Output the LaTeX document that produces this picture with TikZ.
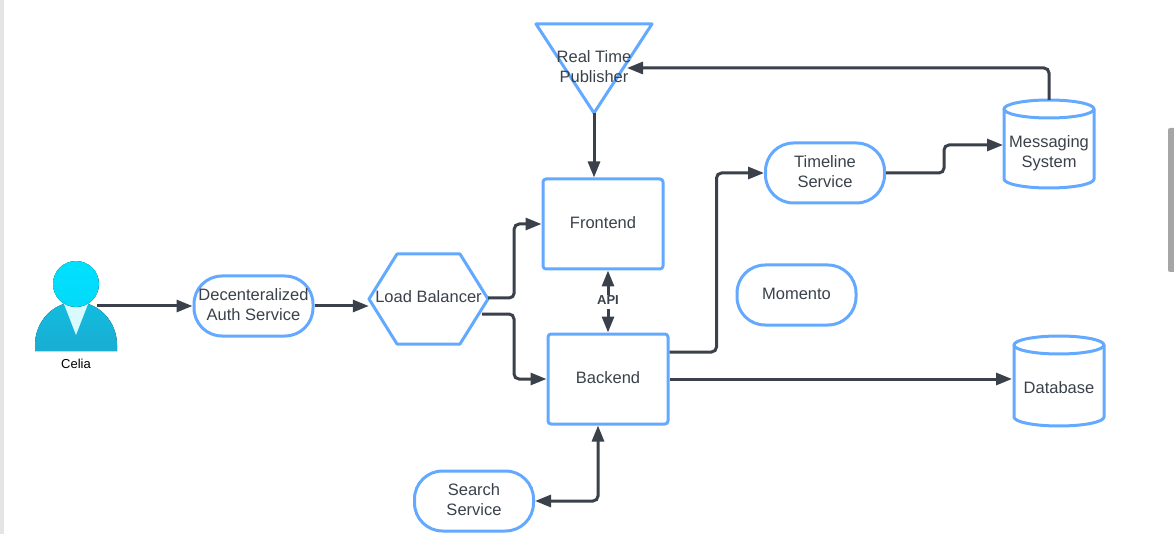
\documentclass[tikz,border=0pt]{standalone}
\usepackage{fontspec}
\setmainfont{Liberation Sans}
\usetikzlibrary{arrows.meta}
\definecolor{edgeblue}{HTML}{63A9FF}
\definecolor{inkgray}{HTML}{3A414A}
\definecolor{topcyan}{HTML}{00E1FF}
\definecolor{lowcyan}{HTML}{19ADD2}
\tikzset{
	label text/.style={font=\fontsize{16.5}{20}\selectfont, text=inkgray, align=center, execute at end node={\rule[-3pt]{0pt}{3pt}}},
	outline/.style={draw=edgeblue, line width=3pt, line join=round},
	flowbox/.style={label text, outline, rounded corners=3pt, minimum width=120pt, minimum height=90pt, inner sep=0pt},
	pill/.style={label text, outline, rounded corners=28pt, minimum width=119pt, minimum height=60pt, inner sep=0pt},
	drum/.style={label text, minimum width=90pt, inner sep=0pt, outer sep=0pt},
	link/.style={draw=inkgray, line width=3pt, rounded corners=5pt, -{Triangle[length=16pt,width=12pt]}},
	bothlink/.style={link, {Triangle[length=16pt,width=12pt]}-{Triangle[length=16pt,width=12pt]}}
}
\def\drumshape(#1)(#2){
	\draw[outline] (#1.north) ++(0, 9) ellipse (45 and 9);
	\draw[outline] (#1.north west) ++(0, 9) -- ++(0, #2) arc (180:0:45 and 9) -- ++(0, -#2);
}
\begin{document}
\begin{tikzpicture}[x=1pt, y=-1pt]
	%%%%% START %%%%%
	\useasboundingbox (0, 0) rectangle (1174, 534);
	
	\fill[black!10] (0, 0) rectangle (4, 534);
	\fill[black!35, rounded corners=2pt] (1168, 128) rectangle (1176, 272);
	
	% person
	\fill[top color=lowcyan!70!topcyan, bottom color=lowcyan] (35, 351) -- (35, 345) arc (180:360:41 and 43) -- (117, 351) -- cycle;
	\fill[white!85!topcyan] (64, 304) -- (88, 304) -- (76, 335) -- cycle;
	\fill[top color=topcyan, bottom color=topcyan!85!lowcyan] (76, 284) circle (23);
	\node[minimum width=42pt, minimum height=44pt, inner sep=0pt] (celia) at (76, 306) {};
	\node[font=\fontsize{13}{14}\selectfont] (celialabel) at (76, 364) {Celia};
	
	\node[pill] (auth) at (253.5, 306) {Decenteralized\\Auth Service};
	
	% load balancer
	\draw[outline] (369, 299) -- (397, 254) -- (460, 254) -- (488, 299) -- (460, 344) -- (397, 344) -- cycle;
	\node[label text, minimum width=119pt, minimum height=90pt, inner sep=0pt] (balancer) at (428.5, 298) {Load Balancer};
	\coordinate (balancerlow) at (482, 314);
	
	\node[flowbox] (frontend) at (603, 224) {Frontend};
	\node[flowbox] (backend) at (608, 379) {Backend};
	
	% publisher
	\draw[outline] (536, 24) -- (652, 24) -- (594, 113) -- cycle;
	\node[label text, inner sep=0pt] (publisher) at (594, 68) {Real Time\\Publisher};
	\coordinate (publishertip) at (594, 113);
	\coordinate (publisherside) at (627, 68);
	
	\node[pill] (timeline) at (825, 173) {Timeline\\Service};
	\node[pill] (momento) at (796.5, 295) {Momento};
	\node[pill] (search) at (474, 501) {Search\\Service};
	
	\node[drum, minimum height=88pt] (messaging) at (1049, 144) {};
	\drumshape(messaging)(70)
	\node[label text] (messagingtext) at (1049, 153) {Messaging\\System};
	\node[drum, minimum height=90pt] (database) at (1059, 381) {};
	\drumshape(database)(72)
	\node[label text] (databasetext) at (1059, 389) {Database};
	
	\node[label text, font=\fontsize{13}{14}\selectfont\bfseries, inner sep=1pt] (api) at (608, 302) {API};
	
	% connectors
	\draw[link] (celia.east) -- (auth.west);
	\draw[link] (auth.east) -- (balancer.west |- auth.east);
	\draw[link] (balancer.east) -- ++(26, 0) |- (frontend.west);
	\draw[link] (balancerlow) -- ++(32, 0) |- (backend.west);
	\draw[link] (publishertip) -- (frontend.north -| publishertip);
	\draw[link] (api.north) -- (api.north |- frontend.south);
	\draw[link] (api.south) -- (api.south |- backend.north);
	\draw[link] (backend.east |- 0, 352) -- ++(47, 0) |- (timeline.west);
	\draw[link, shorten >=2pt] (backend.east) -- (database.west |- backend.east);
	\draw[link, shorten >=1pt] (timeline.east) -- ++(58, 0) |- (messaging.west |- 0, 145);
	\draw[link] (messaging.north) |- (publisherside);
	\draw[bothlink] (search.east) -| (backend.south -| 598, 0);
	%%%%% END %%%%%
\end{tikzpicture}
\end{document}
